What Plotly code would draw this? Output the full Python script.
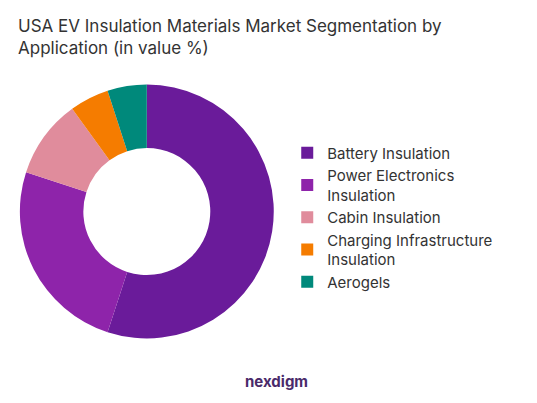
import plotly.graph_objects as go

labels = ["Battery Insulation", "Power Electronics<br>Insulation", "Cabin Insulation",
          "Charging Infrastructure<br>Insulation", "Aerogels"]
values = [55, 25, 10, 5, 5]
colors = ["#6a1b9a", "#8e24aa", "#e08c9c", "#f57c00", "#00897b"]

fig = go.Figure(go.Pie(
    labels=labels, values=values, hole=0.5, sort=False, direction="clockwise",
    rotation=0, marker=dict(colors=colors, line=dict(color="white", width=0)), textinfo="none",
    domain=dict(x=[0.022, 0.495], y=[0.18, 0.81])
))
fig.update_layout(
    width=537, height=403, paper_bgcolor="white", plot_bgcolor="white",
    margin=dict(l=0, r=0, t=0, b=0),
    legend=dict(x=0.52, y=0.48, yanchor="middle", font=dict(family="Inter", size=15, color="#333"),
                itemwidth=30, tracegroupgap=10),
    annotations=[
        dict(text="USA EV Insulation Materials Market Segmentation by<br>Application (in value %)",
             x=0.015, y=0.985, xref="paper", yref="paper", xanchor="left", yanchor="top",
             align="left", showarrow=False, font=dict(family="Inter", size=17, color="#333")),
        dict(text="<b>nexdigm</b>", x=0.5, y=0.045, xref="paper", yref="paper",
             showarrow=False, font=dict(family="Inter", size=15, color="#4a2a6a"))]
)
fig.write_html("out.html")
